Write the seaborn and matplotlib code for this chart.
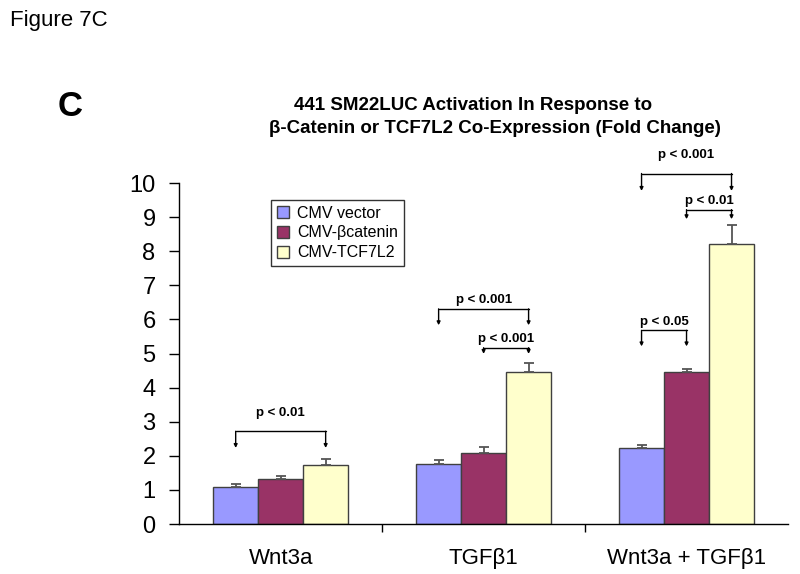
import matplotlib
matplotlib.use("Agg")
import matplotlib.pyplot as plt
import seaborn as sns
import pandas as pd
import numpy as np

categories = ["Wnt3a", "TGF\u03b21", "Wnt3a + TGF\u03b21"]
series = ["CMV vector", "CMV-\u03b2catenin", "CMV-TCF7L2"]
values = {
    "CMV vector":      [1.09, 1.77, 2.23],
    "CMV-\u03b2catenin": [1.32, 2.08, 4.46],
    "CMV-TCF7L2":      [1.73, 4.47, 8.22],
}
errors = {
    "CMV vector":      [0.08, 0.11, 0.09],
    "CMV-\u03b2catenin": [0.10, 0.17, 0.08],
    "CMV-TCF7L2":      [0.17, 0.25, 0.54],
}
colors = ["#9999FF", "#993366", "#FFFFCC"]
yticks = list(range(0, 11))

# significance brackets: (category index, left series, right series, label)
sig_cat = [0, 1, 1, 2, 2, 2]
sig_left = [0, 0, 1, 0, 1, 0]
sig_right = [2, 2, 2, 1, 2, 2]
sig_label = ["p < 0.01", "p < 0.001", "p < 0.001", "p < 0.05", "p < 0.01", "p < 0.001"]
sig_line_y = [2.72, 6.31, 5.17, 5.68, 9.22, 10.28]
sig_tip_y = [2.23, 5.83, 4.99, 5.21, 8.94, 9.77]
sig_text_y = [3.26, 6.57, 5.42, 5.91, 9.48, 10.83]

rows = []
for s in series:
    for c, v, e in zip(categories, values[s], errors[s]):
        rows.append({"cat": c, "series": s, "value": v, "err": e})
df = pd.DataFrame(rows)

sns.set_style("white")
plt.rcParams["font.family"] = ["Liberation Sans", "DejaVu Sans"]
plt.rcParams["text.color"] = "black"
plt.rcParams["xtick.color"] = "black"
plt.rcParams["ytick.color"] = "black"
plt.rcParams["axes.labelcolor"] = "black"

fig = plt.figure(figsize=(8, 5.74), dpi=100)
ax = fig.add_axes([0.224, 0.0871, 0.761, 0.594])

sns.barplot(data=df, x="cat", y="value", hue="series", order=categories,
            hue_order=series, palette=colors, errorbar=None, width=0.665,
            gap=0, edgecolor="#404040", linewidth=1.0, ax=ax, saturation=1)

# error bars (upper only) from bar patches
centers = {}
for si, s in enumerate(series):
    cont = ax.containers[si]
    for ci, bar in enumerate(cont):
        xc = bar.get_x() + bar.get_width() / 2
        h = bar.get_height()
        centers[(ci, si)] = xc
        e = errors[s][ci]
        ax.errorbar([xc], [h], yerr=[[0], [e]], fmt="none", ecolor="#555555",
                    elinewidth=1.3, capsize=3.5, capthick=1.3, zorder=5)

for ci, l, r, lab, ly, ty, tx in zip(sig_cat, sig_left, sig_right, sig_label,
                                      sig_line_y, sig_tip_y, sig_text_y):
    x1 = centers[(ci, l)]
    x2 = centers[(ci, r)]
    ax.plot([x1, x2], [ly, ly], color="black", lw=1.0, zorder=6, clip_on=False)
    for xx in (x1, x2):
        ax.annotate("", xy=(xx, ty), xytext=(xx, ly),
                    arrowprops=dict(arrowstyle="-|>", lw=1.0, color="black",
                                    mutation_scale=5, shrinkA=0, shrinkB=0),
                    annotation_clip=False)
    ax.text((x1 + x2) / 2, tx, lab, ha="center", va="center", fontsize=9.5,
            fontweight="bold", clip_on=False)

ax.set_xlim(-0.5, 2.5)
ax.set_ylim(0, 10)
ax.set_yticks(yticks)
ax.set_yticklabels([str(t) for t in yticks], fontsize=17)
ax.set_xlabel("")
ax.set_ylabel("")
ax.tick_params(axis="x", which="major", length=0, pad=17, labelsize=16)
ax.set_xticks([0.5, 1.5], minor=True)
ax.tick_params(axis="x", which="minor", length=6, width=1, color="black", direction="out", bottom=True)
ax.tick_params(axis="y", length=7, width=1, color="black", direction="out", pad=10, left=True)
for sp in ["top", "right"]:
    ax.spines[sp].set_visible(False)
for sp in ["left", "bottom"]:
    ax.spines[sp].set_color("black")
    ax.spines[sp].set_linewidth(1.0)

leg = ax.legend(loc="upper left", bbox_to_anchor=(0.151, 0.95), borderaxespad=0,
                fontsize=11.5, frameon=True, fancybox=False, handlelength=0.8,
                handleheight=0.8, handletextpad=0.5, labelspacing=0.3,
                borderpad=0.35)
leg.get_frame().set_edgecolor("black")
leg.get_frame().set_linewidth(1.0)

fig.text(0.0125, 0.965, "Figure 7C", fontsize=16, ha="left", va="center")
fig.text(0.0725, 0.815, "C", fontsize=25, fontweight="bold", ha="left", va="center")
fig.text(0.591, 0.8165, "441 SM22LUC Activation In Response to", fontsize=13.5,
         fontweight="bold", ha="center", va="center")
fig.text(0.619, 0.777, "\u03b2-Catenin or TCF7L2 Co-Expression (Fold Change)",
         fontsize=13.5, fontweight="bold", ha="center", va="center")

fig.savefig("out.png", dpi=100)
